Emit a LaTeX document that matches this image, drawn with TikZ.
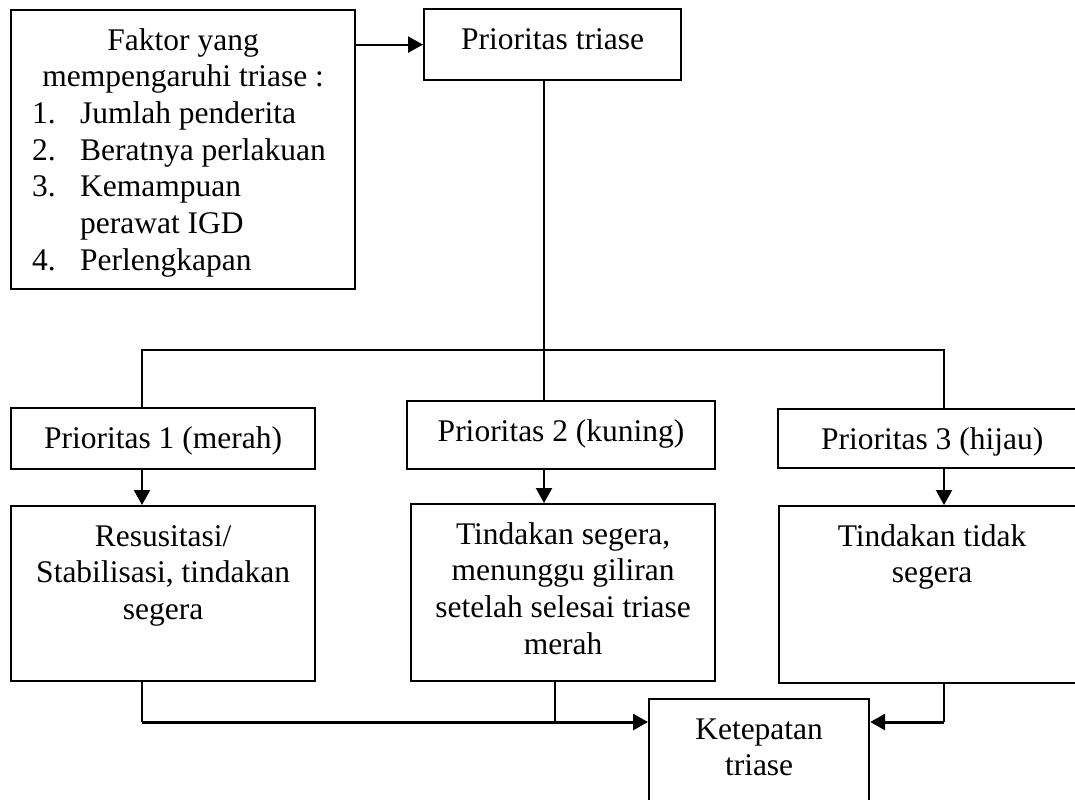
\documentclass[tikz,border=0pt]{standalone}
\usepackage{fontspec}
\setmainfont{Liberation Serif}
\usetikzlibrary{arrows.meta}
\newdimen\pxu \pxu=0.5pt
\newcommand\mybox[3]{\parbox[c][#2\pxu][t]{#1\pxu}{\centering\rule{0pt}{40\pxu}#3}}
\newcommand\listentry[2]{\hspace*{21\pxu}\makebox[48\pxu][l]{#1}#2}
\begin{document}
\begin{tikzpicture}[x=0.5pt,y=-0.5pt,
  bx/.style={draw,line width=1.1pt,inner sep=0pt,anchor=north west,
    font=\fontsize{15.75pt}{18.35pt}\selectfont},
  ln/.style={line width=1.1pt},
  thk/.style={line width=1.5pt},
  arr/.style={-{Triangle[length=7.5pt,width=8pt]}}]
\useasboundingbox (0,0) rectangle (1075,799);
\node[bx] (fak) at (10,9) {\parbox[c][279\pxu][t]{344\pxu}{\rule{0pt}{40\pxu}\makebox[344\pxu]{Faktor yang}\\
\makebox[344\pxu]{mempengaruhi triase :}\\
\listentry{1.}{Jumlah penderita}\\
\listentry{2.}{Beratnya perlakuan}\\
\listentry{3.}{Kemampuan}\\
\listentry{}{perawat IGD}\\
\listentry{4.}{Perlengkapan}}};
\node[bx] (pt) at (423,8) {\mybox{257}{71}{Prioritas triase}};
\node[bx] (p1) at (10,407) {\mybox{304}{61}{Prioritas 1 (merah)}};
\node[bx] (p2) at (406,400) {\mybox{308}{68}{Prioritas 2 (kuning)}};
\node[bx] (p3) at (777,408) {\mybox{308}{59}{Prioritas 3 (hijau)}};
\node[bx] (b1) at (10,505) {\mybox{304}{175}{Resusitasi/\\Stabilisasi, tindakan\\segera}};
\node[bx] (b2) at (410,503) {\mybox{304}{177}{Tindakan segera,\\menunggu giliran\\setelah selesai triase\\merah}};
\node[bx] (b3) at (778,505) {\mybox{306}{177}{Tindakan tidak\\segera}};
\node[bx] (kt) at (648,698) {\mybox{220}{115}{Ketepatan\\triase}};
\coordinate (jl) at (142,350);
\coordinate (jm) at (544,350);
\coordinate (jr) at (944,350);
\coordinate (b2x) at (555,0);
\coordinate (hy) at (0,722);
\draw[ln,arr] (fak.east |- pt.west) -- (pt.west);
\draw[ln] (pt.south -| jm) -- (p2.north -| jm);
\draw[ln] (p1.north -| jl) -- (jl) -- (jr) -- (p3.north -| jr);
\draw[ln,arr] (p1.south -| jl) -- (b1.north -| jl);
\draw[ln,arr] (p2.south -| jm) -- (b2.north -| jm);
\draw[ln,arr] (p3.south -| jr) -- (b3.north -| jr);
\draw[ln] (b1.south -| jl) -- (jl |- hy);
\draw[ln] (b2.south -| b2x) -- (b2x |- hy);
\draw[ln] (b3.south -| jr) -- (jr |- hy);
\draw[thk,arr] (jl |- hy) -- (kt.west |- hy);
\draw[thk,arr] (jr |- hy) -- (kt.east |- hy);
\end{tikzpicture}
\end{document}
